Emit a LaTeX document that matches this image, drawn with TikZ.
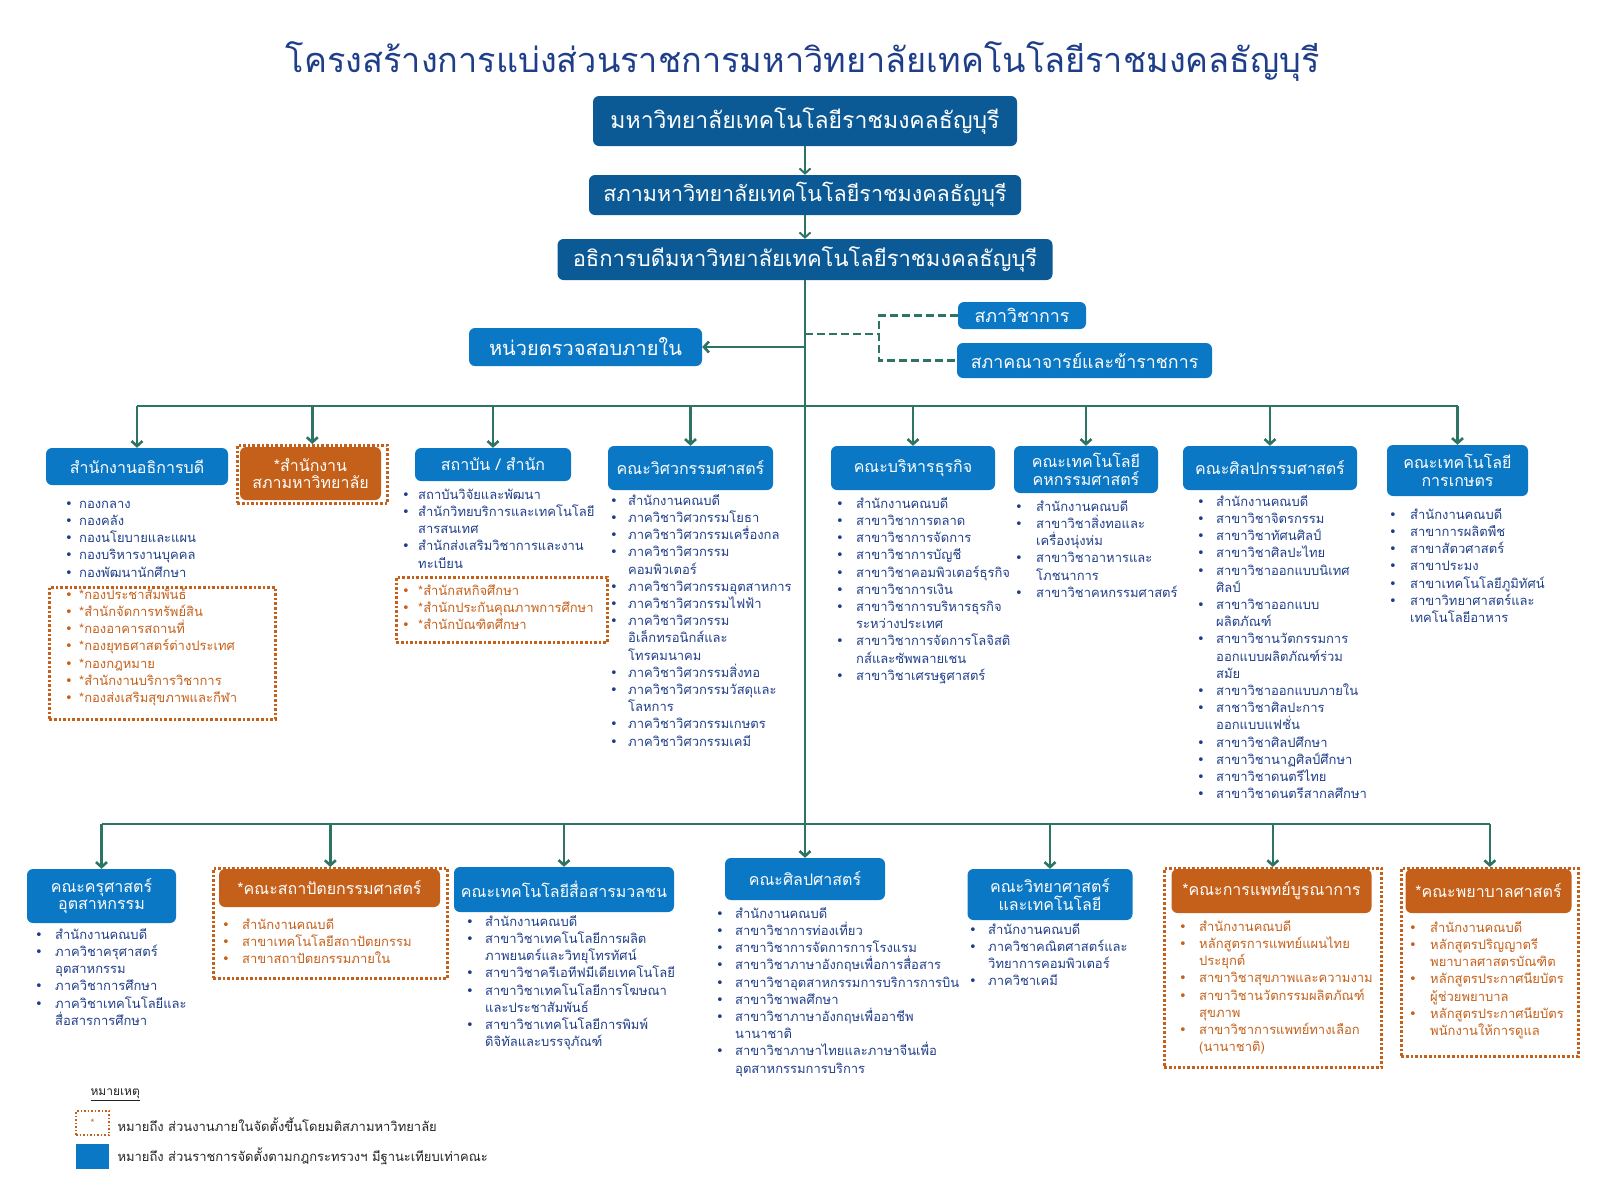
\documentclass[tikz,border=0pt]{standalone}
\usepackage{fontspec}
\setmainfont[Script=Thai]{Loma}
\newfontfamily\symfont{DejaVu Sans}
\usetikzlibrary{arrows.meta}

\definecolor{navy}{HTML}{1F3E8A}
\definecolor{topblue}{HTML}{0B5A96}
\definecolor{facblue}{HTML}{0B78C6}
\definecolor{burnt}{HTML}{C5601A}
\definecolor{connc}{HTML}{2E7464}
\definecolor{legtext}{HTML}{222222}

\newlength{\bw}
\setlength{\bw}{20pt}
\newcommand{\bul}{{\symfont\fontsize{13}{13}\selectfont •}}
\newcommand{\itm}{\rule{0pt}{13pt}\makebox[\bw][l]{\bul}}
\newcommand{\cnt}{\rule{0pt}{13pt}\hspace*{\bw}}

\tikzset{
  topbox/.style={fill=topblue, text=white, rounded corners=6pt, inner sep=0pt, font=\fontsize{23}{26}\selectfont},
  facbox/.style={fill=facblue, text=white, rounded corners=6pt, inner sep=0pt, align=center, font=\fontsize{16}{17.5}\selectfont},
  orgbox/.style={facbox, fill=burnt},
  dotframe/.style={draw=burnt, line width=2.6pt, dotted, anchor=north west, inner sep=0pt},
  blist/.style={anchor=north west, align=left, inner sep=0pt, text=navy, font=\fontsize{13}{17.2}\selectfont},
  olist/.style={blist, text=burnt},
  bw/.code={\setlength{\bw}{#1}},
  conn/.style={draw=connc, line width=2.6pt},
  arr/.style={conn, -{Straight Barb[length=5pt, width=11pt]}},
  dashline/.style={conn, dashed, dash pattern=on 8pt off 4pt},
}

\begin{document}
\begin{tikzpicture}[x=1pt, y=-1pt]
	\useasboundingbox (0,0) rectangle (1600,1200);

	% Title
	\node[font=\fontsize{34.3}{37}\selectfont, text=navy] (title) at (803,62) {โครงสร้างการแบ่งส่วนราชการมหาวิทยาลัยเทคโนโลยีราชมงคลธัญบุรี};

	% Top of the chart
	\node[topbox, minimum width=424pt, minimum height=50pt] (uni) at (805,121) {มหาวิทยาลัยเทคโนโลยีราชมงคลธัญบุรี};
	\node[topbox, font=\fontsize{21.5}{24}\selectfont, minimum width=432pt, minimum height=40pt] (council) at (805,195) {สภามหาวิทยาลัยเทคโนโลยีราชมงคลธัญบุรี};
	\node[topbox, font=\fontsize{22}{24}\selectfont, minimum width=495pt, minimum height=41pt] (rector) at (805,259.5) {อธิการบดีมหาวิทยาลัยเทคโนโลยีราชมงคลธัญบุรี};
	\draw[arr, line width=2pt] (uni.south) -- (council.north);
	\draw[arr, line width=2pt] (council.south) -- (rector.north);

	% Side units
	\node[facbox, font=\fontsize{20}{22}\selectfont, minimum width=233pt, minimum height=38pt] (audit) at (585.5,347) {หน่วยตรวจสอบภายใน};
	\node[facbox, font=\fontsize{17.8}{19}\selectfont, minimum width=128pt, minimum height=27pt] (acad) at (1022,315.5) {สภาวิชาการ};
	\node[facbox, font=\fontsize{17.8}{19}\selectfont, minimum width=255pt, minimum height=35pt] (senate) at (1084.5,360.5) {สภาคณาจารย์และข้าราชการ};
	\coordinate (split) at (879,334);
	\draw[arr] (rector.south |- audit.east) -- (audit.east);
	\draw[dashline] (rector.south |- split) -- (split);
	\draw[dashline] (acad.west) -| (split) |- (senate.west);

	% Upper row
	\node[facbox, minimum width=182pt, minimum height=37pt] (exec) at (137,466.5) {สำนักงานอธิการบดี};
	\node[orgbox, minimum width=141pt, minimum height=53pt] (cloff) at (310.5,473.5) {*สำนักงาน\\สภามหาวิทยาลัย};
	\node[dotframe, minimum width=150pt, minimum height=58pt] (cloffF) at (236,444) {};
	\node[facbox, minimum width=156pt, minimum height=33pt] (inst) at (493,464.5) {สถาบัน / สำนัก};
	\node[facbox, minimum width=165pt, minimum height=44pt] (eng) at (690.5,468) {คณะวิศวกรรมศาสตร์};
	\node[facbox, minimum width=164pt, minimum height=44pt] (busi) at (913,468) {คณะบริหารธุรกิจ};
	\node[facbox, minimum width=144pt, minimum height=47pt] (home) at (1086,469.5) {คณะเทคโนโลยี\\คหกรรมศาสตร์};
	\node[facbox, minimum width=174pt, minimum height=44pt] (arts) at (1270,468) {คณะศิลปกรรมศาสตร์};
	\node[facbox, minimum width=141pt, minimum height=51pt] (agri) at (1457.5,470.5) {คณะเทคโนโลยี\\การเกษตร};

	\coordinate (busTop) at (0,406);
	\draw[conn] (rector.south) -- (rector.south |- busTop);
	\draw[conn] (exec.north |- busTop) -- (agri.north |- busTop);
	\foreach \n in {exec, cloffF, inst, eng, busi, home, arts, agri}
		\draw[arr] (\n.north |- busTop) -- (\n.north);

	% Upper row lists
	\node[blist, bw=14pt] (execList) at (65,495) {\itm กองกลาง\\ \itm กองคลัง\\ \itm กองนโยบายและแผน\\ \itm กองบริหารงานบุคคล\\ \itm กองพัฒนานักศึกษา};
	\node[dotframe, minimum width=226pt, minimum height=132pt] (execF) at (48,586) {};
	\node[olist, bw=14pt] (execOrg) at (65,586) {\itm *กองประชาสัมพันธ์\\ \itm *สำนักจัดการทรัพย์สิน\\ \itm *กองอาคารสถานที่\\ \itm *กองยุทธศาสตร์ต่างประเทศ\\ \itm *กองกฎหมาย\\ \itm *สำนักงานบริการวิชาการ\\ \itm *กองส่งเสริมสุขภาพและกีฬา};

	\node[blist, bw=16pt] (instList) at (402,486) {\itm สถาบันวิจัยและพัฒนา\\ \itm สำนักวิทยบริการและเทคโนโลยี\\ \cnt สารสนเทศ\\ \itm สำนักส่งเสริมวิชาการและงาน\\ \cnt ทะเบียน};
	\node[dotframe, minimum width=211pt, minimum height=65pt] (instF) at (395,576) {};
	\node[olist, bw=16pt] (instOrg) at (402,582) {\itm *สำนักสหกิจศึกษา\\ \itm *สำนักประกันคุณภาพการศึกษา\\ \itm *สำนักบัณฑิตศึกษา};

	\node[blist, bw=18pt] (engList) at (610,492) {\itm สำนักงานคณบดี\\ \itm ภาควิชาวิศวกรรมโยธา\\ \itm ภาควิชาวิศวกรรมเครื่องกล\\ \itm ภาควิชาวิศวกรรม\\ \cnt คอมพิวเตอร์\\ \itm ภาควิชาวิศวกรรมอุตสาหการ\\ \itm ภาควิชาวิศวกรรมไฟฟ้า\\ \itm ภาควิชาวิศวกรรม\\ \cnt อิเล็กทรอนิกส์และ\\ \cnt โทรคมนาคม\\ \itm ภาควิชาวิศวกรรมสิ่งทอ\\ \itm ภาควิชาวิศวกรรมวัสดุและ\\ \cnt โลหการ\\ \itm ภาควิชาวิศวกรรมเกษตร\\ \itm ภาควิชาวิศวกรรมเคมี};

	\node[blist, bw=20pt] (busiList) at (836,495) {\itm สำนักงานคณบดี\\ \itm สาขาวิชาการตลาด\\ \itm สาขาวิชาการจัดการ\\ \itm สาขาวิชาการบัญชี\\ \itm สาขาวิชาคอมพิวเตอร์ธุรกิจ\\ \itm สาขาวิชาการเงิน\\ \itm สาขาวิชาการบริหารธุรกิจ\\ \cnt ระหว่างประเทศ\\ \itm สาขาวิชาการจัดการโลจิสติ\\ \cnt กส์และซัพพลายเชน\\ \itm สาขาวิชาเศรษฐศาสตร์};

	\node[blist, bw=21pt] (homeList) at (1015,498) {\itm สำนักงานคณบดี\\ \itm สาขาวิชาสิ่งทอและ\\ \cnt เครื่องนุ่งห่ม\\ \itm สาขาวิชาอาหารและ\\ \cnt โภชนาการ\\ \itm สาขาวิชาคหกรรมศาสตร์};

	\node[blist, bw=19pt] (artsList) at (1197,493) {\itm สำนักงานคณบดี\\ \itm สาขาวิชาจิตรกรรม\\ \itm สาขาวิชาทัศนศิลป์\\ \itm สาขาวิชาศิลปะไทย\\ \itm สาขาวิชาออกแบบนิเทศ\\ \cnt ศิลป์\\ \itm สาขาวิชาออกแบบ\\ \cnt ผลิตภัณฑ์\\ \itm สาขาวิชานวัตกรรมการ\\ \cnt ออกแบบผลิตภัณฑ์ร่วม\\ \cnt สมัย\\ \itm สาขาวิชาออกแบบภายใน\\ \itm สาชาวิชาศิลปะการ\\ \cnt ออกแบบแฟชั่น\\ \itm สาขาวิชาศิลปศึกษา\\ \itm สาขาวิชานาฏศิลป์ศึกษา\\ \itm สาขาวิชาดนตรีไทย\\ \itm สาขาวิชาดนตรีสากลศึกษา};

	\node[blist, bw=21pt] (agriList) at (1389,506) {\itm สำนักงานคณบดี\\ \itm สาขาการผลิตพืช\\ \itm สาขาสัตวศาสตร์\\ \itm สาขาประมง\\ \itm สาขาเทคโนโลยีภูมิทัศน์\\ \itm สาขาวิทยาศาสตร์และ\\ \cnt เทคโนโลยีอาหาร};

	% Lower row
	\node[facbox, minimum width=149pt, minimum height=54pt] (kru) at (101.5,896) {คณะครุศาสตร์\\อุตสาหกรรม};
	\node[dotframe, minimum width=234pt, minimum height=110pt] (archF) at (212,867) {};
	\node[orgbox, minimum width=221pt, minimum height=38pt] (arch) at (329.5,888) {*คณะสถาปัตยกรรมศาสตร์};
	\node[facbox, minimum width=220pt, minimum height=45pt] (mass) at (564,889.5) {คณะเทคโนโลยีสื่อสารมวลชน};
	\node[facbox, minimum width=160pt, minimum height=42pt] (libarts) at (805,879) {คณะศิลปศาสตร์};
	\node[facbox, minimum width=165pt, minimum height=51pt] (sci) at (1050,894.5) {คณะวิทยาศาสตร์\\และเทคโนโลยี};
	\node[dotframe, minimum width=217pt, minimum height=199pt] (medF) at (1163,867) {};
	\node[orgbox, minimum width=200pt, minimum height=44pt] (med) at (1271.5,891) {*คณะการแพทย์บูรณาการ};
	\node[dotframe, minimum width=177pt, minimum height=188pt] (nurseF) at (1400,867) {};
	\node[orgbox, minimum width=166pt, minimum height=44pt] (nurse) at (1488.5,891) {*คณะพยาบาลศาสตร์};

	\coordinate (busBot) at (0,824);
	\draw[arr] (rector.south |- busTop) -- (rector.south |- libarts.north);
	\draw[conn] (kru.north |- busBot) -- (nurseF.north |- busBot);
	\foreach \n in {kru, archF, mass, sci, medF, nurseF}
		\draw[arr] (\n.north |- busBot) -- (\n.north);

	% Lower row lists
	\node[blist, bw=20pt] (kruList) at (35,926) {\itm สำนักงานคณบดี\\ \itm ภาควิชาครุศาสตร์\\ \cnt อุตสาหกรรม\\ \itm ภาควิชาการศึกษา\\ \itm ภาควิชาเทคโนโลยีและ\\ \cnt สื่อสารการศึกษา};
	\node[olist, bw=20pt] (archList) at (222,916) {\itm สำนักงานคณบดี\\ \itm สาขาเทคโนโลยีสถาปัตยกรรม\\ \itm สาขาสถาปัตยกรรมภายใน};
	\node[blist, bw=19pt] (massList) at (466,913) {\itm สำนักงานคณบดี\\ \itm สาขาวิชาเทคโนโลยีการผลิต\\ \cnt ภาพยนตร์และวิทยุโทรทัศน์\\ \itm สาขาวิชาครีเอทีฟมีเดียเทคโนโลยี\\ \itm สาขาวิชาเทคโนโลยีการโฆษณา\\ \cnt และประชาสัมพันธ์\\ \itm สาขาวิชาเทคโนโลยีการพิมพ์\\ \cnt ดิจิทัลและบรรจุภัณฑ์};
	\node[blist, bw=19pt] (libList) at (716,905) {\itm สำนักงานคณบดี\\ \itm สาขาวิชาการท่องเที่ยว\\ \itm สาขาวิชาการจัดการการโรงแรม\\ \itm สาขาวิชาภาษาอังกฤษเพื่อการสื่อสาร\\ \itm สาขาวิชาอุตสาหกรรมการบริการการบิน\\ \itm สาขาวิชาพลศึกษา\\ \itm สาขาวิชาภาษาอังกฤษเพื่ออาชีพ\\ \cnt นานาชาติ\\ \itm สาขาวิชาภาษาไทยและภาษาจีนเพื่อ\\ \cnt อุตสาหกรรมการบริการ};
	\node[blist, bw=19pt] (sciList) at (969,921) {\itm สำนักงานคณบดี\\ \itm ภาควิชาคณิตศาสตร์และ\\ \cnt วิทยาการคอมพิวเตอร์\\ \itm ภาควิชาเคมี};
	\node[olist, bw=20pt] (medList) at (1179,918) {\itm สำนักงานคณบดี\\ \itm หลักสูตรการแพทย์แผนไทย\\ \cnt ประยุกต์\\ \itm สาขาวิชาสุขภาพและความงาม\\ \itm สาขาวิชานวัตกรรมผลิตภัณฑ์\\ \cnt สุขภาพ\\ \itm สาขาวิชาการแพทย์ทางเลือก\\ \cnt (นานาชาติ)};
	\node[olist, bw=21pt] (nurseList) at (1409,919) {\itm สำนักงานคณบดี\\ \itm หลักสูตรปริญญาตรี\\ \cnt พยาบาลศาสตรบัณฑิต\\ \itm หลักสูตรประกาศนียบัตร\\ \cnt ผู้ช่วยพยาบาล\\ \itm หลักสูตรประกาศนียบัตร\\ \cnt พนักงานให้การดูแล};

	% Legend
	\node[anchor=west, text=legtext, font=\fontsize{12}{14}\selectfont] (noteHd) at (87,1095) {\underline{หมายเหตุ}};
	\node[draw=burnt, line width=1.5pt, dotted, text=burnt, minimum width=33pt, minimum height=24pt, inner sep=0pt] (keyDot) at (92.5,1123) {*};
	\node[fill=facblue, minimum width=33pt, minimum height=25pt, inner sep=0pt] (keyBlue) at (92.5,1156.5) {};
	\node[anchor=west, text=legtext, font=\fontsize{13}{15}\selectfont] (keyDotTx) at (114,1125) {หมายถึง ส่วนงานภายในจัดตั้งขึ้นโดยมติสภามหาวิทยาลัย};
	\node[anchor=west, text=legtext, font=\fontsize{13}{15}\selectfont] (keyBlueTx) at (114,1156) {หมายถึง ส่วนราชการจัดตั้งตามกฎกระทรวงฯ มีฐานะเทียบเท่าคณะ};

\end{tikzpicture}
\end{document}
